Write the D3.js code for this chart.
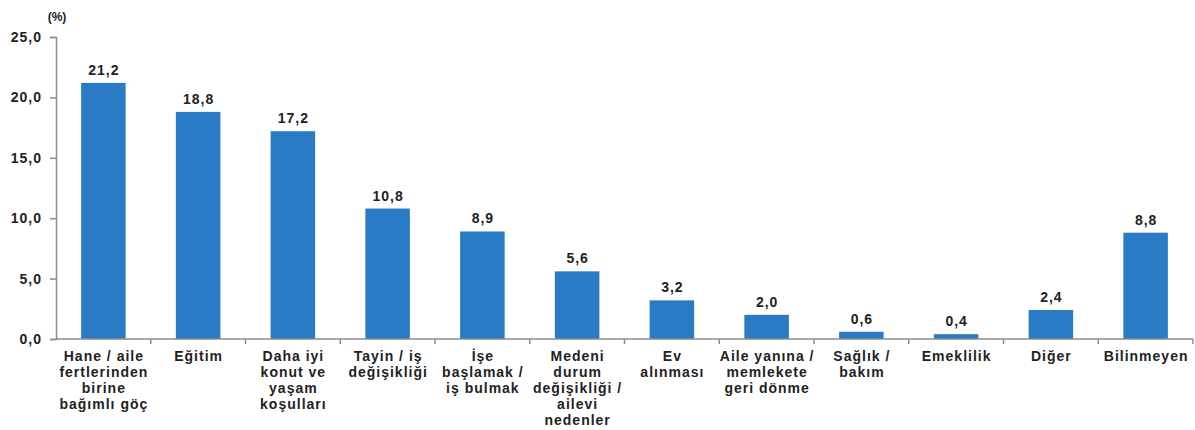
<!DOCTYPE html>
<html><head><meta charset="utf-8">
<script src="https://cdn.jsdelivr.net/npm/d3@7"></script>
<style>body{margin:0;background:#fff}svg{display:block;font-family:"Liberation Sans",Arial,sans-serif}</style>
</head><body><svg id="c" width="1195" height="430"></svg>
<script>
const categories = [
  ["Hane / aile","fertlerinden","birine","bağımlı göç"],
  ["Eğitim"],
  ["Daha iyi","konut ve","yaşam","koşulları"],
  ["Tayin / iş","değişikliği"],
  ["İşe","başlamak /","iş bulmak"],
  ["Medeni","durum","değişikliği /","ailevi","nedenler"],
  ["Ev","alınması"],
  ["Aile yanına /","memlekete","geri dönme"],
  ["Sağlık /","bakım"],
  ["Emeklilik"],
  ["Diğer"],
  ["Bilinmeyen"]
];
const values = [21.2, 18.8, 17.2, 10.8, 8.9, 5.6, 3.2, 2.0, 0.6, 0.4, 2.4, 8.8];
const yTicks = [0, 5, 10, 15, 20, 25];

const svg = d3.select("#c");
const mLeft = 56, mRight = 1193, mTop = 37, mBottom = 339;
const fmt = v => d3.format(".1f")(v).replace(".", ",");
const x = d3.scaleBand().domain(d3.range(values.length)).range([mLeft, mRight]).padding(0);
const y = d3.scaleLinear().domain([0, 25]).range([mBottom, mTop]);
const bw = x.bandwidth() * 0.47;
const axisColor = "#8c8c8c";
const FS = 14, LS = "1px";

// bars
svg.append("g").selectAll("rect").data(values).join("rect")
  .attr("x", (d, i) => x(i) + x.bandwidth() / 2 - bw / 2)
  .attr("y", d => y(d))
  .attr("width", bw)
  .attr("height", d => y(0) - y(d))
  .attr("fill", "#2a7bc5");

// value labels
svg.append("g").selectAll("text").data(values).join("text")
  .attr("x", (d, i) => x(i) + x.bandwidth() / 2 + 0.5)
  .attr("y", d => y(d) - 8)
  .attr("text-anchor", "middle")
  .attr("font-size", FS).attr("font-weight", "bold").attr("fill", "#222")
  .attr("letter-spacing", LS)
  .text(d => fmt(d));

// y axis
const yAxis = svg.append("g").attr("transform", `translate(${mLeft},0)`)
  .call(d3.axisLeft(y).tickValues(yTicks).tickSize(6).tickPadding(8).tickFormat(fmt));
yAxis.select(".domain").attr("stroke", axisColor).attr("stroke-width", 1.5);
yAxis.selectAll(".tick line").attr("stroke", axisColor).attr("stroke-width", 1.5);
yAxis.selectAll(".tick text").attr("font-size", FS).attr("font-weight", "bold")
  .attr("fill", "#222").attr("letter-spacing", LS)
  .attr("font-family", "Liberation Sans, Arial, sans-serif");

// x axis
const xAxis = svg.append("g").attr("transform", `translate(0,${mBottom})`);
xAxis.append("line").attr("x1", mLeft).attr("x2", mRight).attr("y1", 0).attr("y2", 0)
  .attr("stroke", axisColor).attr("stroke-width", 1.5);
const bounds = d3.range(1, values.length + 1).map(i => i < values.length ? x(i) : mRight);
xAxis.selectAll("line.t").data(bounds).join("line").attr("class", "t")
  .attr("x1", d => d).attr("x2", d => d).attr("y1", 0).attr("y2", 5)
  .attr("stroke", axisColor).attr("stroke-width", 1.5);

// category labels
const lab = svg.append("g").selectAll("text").data(categories).join("text")
  .attr("text-anchor", "middle")
  .attr("font-size", FS).attr("font-weight", "bold").attr("fill", "#222")
  .attr("letter-spacing", LS)
  .attr("transform", (d, i) => `translate(${x(i) + x.bandwidth() / 2 + 0.5},${mBottom + 22})`);
lab.selectAll("tspan").data(d => d).join("tspan")
  .attr("x", 0).attr("y", (d, j) => j * 16).text(d => d);

// unit label
svg.append("text").attr("x", 57).attr("y", 21).attr("text-anchor", "middle")
  .attr("font-size", 12).attr("font-weight", "bold").attr("fill", "#222").text("(%)");
</script></body></html>
